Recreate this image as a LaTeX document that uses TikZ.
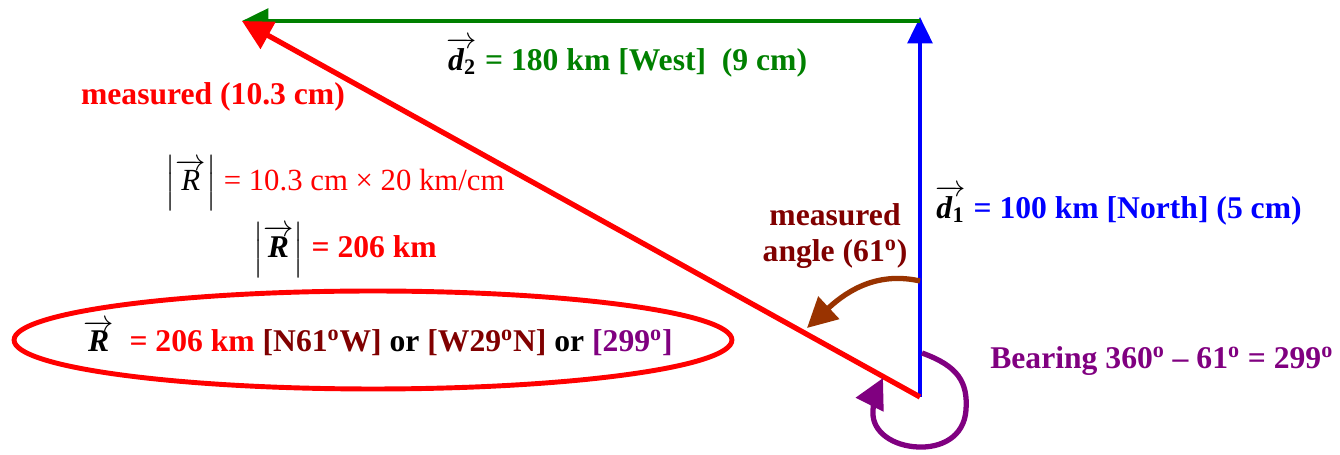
\documentclass[tikz,border=0pt]{standalone}
\usepackage{amsmath}
\usepackage{fontspec}
\setmainfont{Liberation Serif}
\usetikzlibrary{shapes.geometric, arrows.meta}

\definecolor{dgreen}{RGB}{0,128,0}
\definecolor{vblue}{RGB}{0,0,255}
\definecolor{vred}{RGB}{255,0,0}
\definecolor{maroon}{RGB}{128,0,0}
\definecolor{rust}{RGB}{153,51,0}
\definecolor{plum}{RGB}{128,0,128}

\newcommand{\vlab}[2]{\textcolor{black}{$\overrightarrow{\textbf{\textit{#1}}_{\textbf{#2}}}$}}
\newcommand{\vres}{\textcolor{black}{$\overrightarrow{\textbf{\textit{R}}}$}}
\newcommand{\dg}{\textsuperscript{o}}

\begin{document}
\begin{tikzpicture}[x=0.02cm, y=-0.02cm,
    vec/.style={-{Triangle[length=15pt, width=14pt]}, line width=2.3pt},
    resvec/.style={-{Triangle[length=17pt, width=17pt]}, line width=3pt},
    turn/.style={-{Triangle[length=17pt, width=17pt]}, line width=3pt},
    lbl/.style={font=\fontsize{18}{21}\selectfont\bfseries, inner sep=0pt},
    plain/.style={font=\fontsize{17.5}{21}\selectfont, inner sep=0pt}]

    \useasboundingbox (0,0) rectangle (1340,455);

    % Points of the trip
    \coordinate (start) at (920,397);
    \coordinate (north) at (920,17);
    \coordinate (corner) at (920,21);
    \coordinate (west) at (242,21);

    % Vectors
    \draw[vec, vblue] (start) -- (north);
    \draw[vec, dgreen] (corner) -- (west);
    \draw[resvec, vred] (start) -- (west);

    % Labels of the vectors
    \node[lbl, dgreen] (d2) at (627,57) {\vlab{d}{2} = 180 km [West]~~(9 cm)};
    \node[lbl, vblue, anchor=west] (d1) at (935,205) {\vlab{d}{1} = 100 km [North] (5 cm)};
    \node[lbl, vred] (meas) at (213,97) {measured (10.3 cm)};
    \node[plain, vred] (mag) at (335,183) {\textcolor{black}{$\left|\overrightarrow{\textit{R}}\right|$} = 10.3 cm × 20 km/cm};
    \node[lbl, vred] (magb) at (345,250) {\textcolor{black}{$\left|\overrightarrow{\textbf{\textit{R}}}\right|$} = 206 km};

    % Result
    \node[lbl, text=black] (res) at (378,338)
          {\vres~~\textcolor{vred}{= 206 km} \textcolor{maroon}{[N61\dg W]} or \textcolor{maroon}{[W29\dg N]} or \textcolor{plum}{[299\dg]}};
    \draw[vred, line width=2.8pt] (373,340) ellipse [x radius=7.18cm, y radius=0.98cm];

    % Angles
    \node[lbl, maroon, align=center] (ang) at (835,236) {measured\\angle (61\dg)};
    \node[lbl, plum, anchor=west] (bear) at (990,361) {Bearing 360\dg{} \textendash{} 61\dg{} = 299\dg};

    \coordinate (angs) at (920,281);
    \coordinate (ange) at (807,328);
    \draw[turn, rust] (angs) .. controls (880,272) and (850,288) .. (ange);

    \coordinate (bears) at (922,353);
    \coordinate (beare) at (883,378);
    \draw[turn, plum] (bears) .. controls (958,366) and (968,382) .. (966,410)
        .. controls (964,438) and (940,448) .. (918,447)
        .. controls (893,446) and (872,432) .. (873,412)
        .. controls (873,400) and (877,390) .. (beare);

\end{tikzpicture}
\end{document}
